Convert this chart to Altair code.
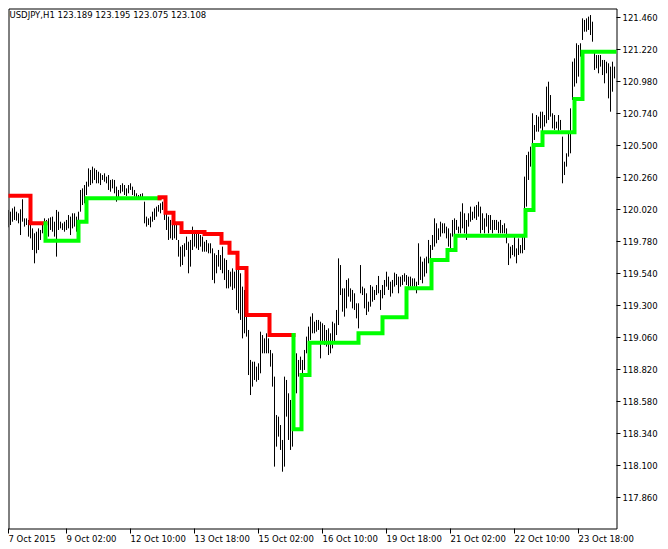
import altair as alt
import pandas as pd

# ---- price bars (H1), high / low ----
highs_a = [
    119.970, 119.995, 120.020, 120.007, 120.032, 120.045, 120.007, 119.995, 120.025, 120.100,
    119.957, 119.957, 119.945, 119.907, 119.882, 119.845, 119.857, 119.882, 119.870, 119.920,
    119.957, 119.945, 119.957, 119.965, 119.970, 119.932, 120.020, 120.007, 119.932, 119.920,
    119.932, 119.945, 119.982, 119.970, 119.995, 119.995, 119.970, 120.007, 120.170, 120.182,
    120.207, 120.232, 120.332, 120.320, 120.345, 120.332, 120.320, 120.307, 120.295, 120.282,
    120.295, 120.270, 120.282, 120.245, 120.250, 120.245, 120.195, 120.170, 120.207, 120.220,
    120.207, 120.182, 120.207, 120.220, 120.195, 120.170, 120.145, 120.132, 120.140, 120.145,
    120.082, 119.970, 119.957, 119.970, 120.007, 120.032, 120.045, 120.057, 120.070, 120.082,
    120.045, 119.995, 119.970, 119.945, 119.932, 119.920, 119.907, 119.795, 119.745, 119.757,
    119.770, 119.820, 119.782, 119.795, 119.895, 119.870, 119.845, 119.857, 119.832, 119.820,
    119.782, 119.795, 119.770, 119.770, 119.732, 119.695, 119.682, 119.720, 119.682, 119.745,
    119.657, 119.645, 119.570, 119.557, 119.582, 119.557, 119.595, 119.570, 119.545, 119.445,
    119.420, 119.245, 119.120, 118.895, 118.882, 118.882, 118.845, 118.870, 119.107, 119.082,
    119.057, 119.095, 119.057, 118.970, 118.945, 118.770, 118.482, 118.470, 118.407, 118.295,
    118.770, 118.745, 118.645, 118.595, 118.720, 118.770, 118.945, 118.895, 118.920, 118.895,
    118.970, 119.070, 119.145, 119.220, 119.245, 119.182, 119.195, 119.195,
]
lows_a = [
    119.845, 119.882, 119.890, 119.907, 119.932, 119.945, 119.940, 119.920, 119.832, 119.932,
    119.895, 119.907, 119.820, 119.807, 119.720, 119.620, 119.695, 119.720, 119.795, 119.845,
    119.795, 119.845, 119.820, 119.870, 119.857, 119.820, 119.670, 119.870, 119.882, 119.870,
    119.857, 119.870, 119.882, 119.832, 119.882, 119.895, 119.857, 119.907, 120.007, 120.057,
    120.070, 120.132, 120.195, 120.207, 120.220, 120.245, 120.220, 120.220, 120.207, 120.245,
    120.232, 120.220, 120.170, 120.157, 120.182, 120.145, 120.082, 120.095, 120.145, 120.157,
    120.132, 120.125, 120.145, 120.170, 120.132, 120.120, 120.095, 120.095, 120.095, 120.095,
    119.920, 119.895, 119.907, 119.890, 119.932, 119.945, 119.970, 120.007, 119.995, 120.020,
    119.945, 119.870, 119.795, 119.807, 119.795, 119.807, 119.795, 119.670, 119.595, 119.607,
    119.670, 119.720, 119.545, 119.595, 119.720, 119.745, 119.732, 119.720, 119.745, 119.707,
    119.707, 119.707, 119.695, 119.695, 119.495, 119.470, 119.545, 119.595, 119.570, 119.545,
    119.495, 119.432, 119.432, 119.445, 119.420, 119.432, 119.270, 119.245, 119.195, 119.057,
    119.095, 119.070, 118.782, 118.632, 118.695, 118.745, 118.732, 118.745, 118.795, 118.945,
    118.945, 118.945, 118.945, 118.845, 118.695, 118.095, 118.245, 118.320, 118.220, 118.057,
    118.095, 118.470, 118.295, 118.220, 118.245, 118.595, 118.645, 118.770, 118.820, 118.795,
    118.820, 118.945, 118.995, 119.045, 119.095, 119.095, 119.107, 119.120,
]
highs_b = [
    119.182, 119.170, 119.157, 119.120, 119.132, 119.095, 119.182, 119.170, 119.270, 119.657,
    119.607, 119.432, 119.432, 119.495, 119.507, 119.432, 119.420, 119.395, 119.320, 119.320,
    119.607, 119.445, 119.432, 119.395, 119.332, 119.457, 119.445, 119.420, 119.457, 119.525,
    119.420, 119.457, 119.495, 119.557, 119.520, 119.482, 119.495, 119.550, 119.540, 119.520,
    119.520, 119.532, 119.545, 119.532, 119.520, 119.520, 119.507, 119.507, 119.482, 119.770,
    119.670, 119.632, 119.657, 119.670, 119.795, 119.757, 119.832, 119.957, 119.920, 119.882,
    119.932, 119.920, 119.920, 119.895, 119.882, 119.845, 119.945, 119.957, 119.945, 119.895,
    120.007, 120.070, 119.995, 119.945, 119.995, 120.045, 120.007, 120.045, 120.057, 120.082,
    120.045, 119.995, 119.957, 119.995, 119.982, 119.982, 119.945, 119.945, 119.945, 119.932,
    119.945, 119.907, 119.920, 119.882, 119.770, 119.745, 119.757, 119.820, 119.732, 119.807,
    119.757, 119.820, 120.270, 120.432, 120.457, 120.495, 120.745, 120.657, 120.732, 120.720,
    120.757, 120.757, 120.732, 120.945, 120.982, 120.882, 120.745, 120.732, 120.682, 120.732,
    120.695, 120.570, 120.382, 120.445, 120.595, 120.782, 121.132, 121.157, 121.270, 121.257,
    121.270, 121.457, 121.445, 121.457, 121.470, 121.482, 121.432, 121.207, 121.182, 121.182,
    121.182, 121.145, 121.145, 121.132, 121.120, 121.095, 121.132, 121.095,
]
lows_b = [
    118.907, 119.020, 119.007, 118.995, 118.932, 118.945, 118.982, 119.020, 119.082, 119.157,
    119.382, 119.257, 119.220, 119.282, 119.370, 119.332, 119.282, 119.270, 119.207, 119.132,
    119.395, 119.382, 119.282, 119.232, 119.257, 119.295, 119.332, 119.345, 119.382, 119.395,
    119.270, 119.357, 119.382, 119.445, 119.420, 119.370, 119.395, 119.445, 119.457, 119.395,
    119.445, 119.457, 119.482, 119.457, 119.445, 119.445, 119.445, 119.445, 119.395, 119.457,
    119.495, 119.470, 119.520, 119.545, 119.620, 119.595, 119.720, 119.745, 119.770, 119.795,
    119.820, 119.845, 119.845, 119.807, 119.745, 119.720, 119.820, 119.832, 119.870, 119.845,
    119.845, 119.882, 119.845, 119.795, 119.895, 119.932, 119.945, 119.957, 119.945, 119.970,
    119.845, 119.870, 119.845, 119.895, 119.845, 119.870, 119.845, 119.870, 119.870, 119.845,
    119.845, 119.845, 119.845, 119.770, 119.607, 119.657, 119.682, 119.670, 119.620, 119.682,
    119.695, 119.695, 119.720, 120.045, 120.245, 120.345, 120.445, 120.545, 120.607, 120.607,
    120.632, 120.595, 120.645, 120.670, 120.695, 120.720, 120.632, 120.620, 120.632, 120.607,
    120.620, 120.220, 120.282, 120.345, 120.420, 120.445, 120.845, 120.945, 120.970, 121.020,
    121.170, 121.295, 121.357, 121.357, 121.370, 121.332, 121.282, 121.070, 121.082, 121.045,
    121.095, 121.032, 120.970, 121.045, 120.857, 120.757, 120.907, 121.007,
]

# ---- trend step line: segment start (bar), level, trend ----
seg_start = [-2, 13, 20.5, 37, 41, 77.5, 80.5, 84.5, 88.5, 100, 108.5, 112.5, 116.5,
             121, 132.5, 144.5, 148.5, 152.5, 177, 189, 201, 213.5, 221.5, 225.5,
             260.5, 264.5, 269, 285, 289]
seg_level = [120.127, 119.920, 119.790, 119.932, 120.107, 120.115, 120.000, 119.920,
             119.855, 119.840, 119.775, 119.700, 119.585, 119.232, 119.082, 118.375,
             118.782, 119.025, 119.095, 119.215, 119.433, 119.645, 119.720, 119.827,
             120.020, 120.507, 120.603, 120.852, 121.207]
seg_trend = ["down", "down", "up", "up", "up", "down", "down", "down", "down", "down",
             "down", "down", "down", "down", "down", "up", "up", "up", "up", "up", "up",
             "up", "up", "up", "up", "up", "up", "up", "up"]
line_end = 306

tick_bars = [2, 31, 63, 95, 127, 159, 191, 223, 255, 287]
tick_labels = ["7 Oct 2015", "9 Oct 02:00", "12 Oct 10:00", "13 Oct 18:00", "15 Oct 02:00",
               "16 Oct 10:00", "19 Oct 18:00", "21 Oct 02:00", "22 Oct 10:00", "23 Oct 18:00"]
price_ticks = [121.46, 121.22, 120.98, 120.74, 120.50, 120.26, 120.02, 119.78, 119.54,
               119.30, 119.06, 118.82, 118.58, 118.34, 118.10, 117.86]
header = "USDJPY,H1  123.189 123.195 123.075 123.108"

# ---- tables ----
highs = highs_a + highs_b
lows = lows_a + lows_b
bars = pd.DataFrame({"bar": list(range(len(highs))), "high": highs, "low": lows})

rows = []
ends = seg_start[1:] + [line_end]
run, k = 0, 0
prev_trend, prev_level = None, None
for s, e, lv, tr in zip(seg_start, ends, seg_level, seg_trend):
    if tr != prev_trend and prev_trend is not None:
        run += 1
        rows.append({"bar": s, "high": prev_level, "trend": tr, "run": run, "ord": k}); k += 1
    rows.append({"bar": s, "high": lv, "trend": tr, "run": run, "ord": k}); k += 1
    rows.append({"bar": e, "high": lv, "trend": tr, "run": run, "ord": k}); k += 1
    prev_trend, prev_level = tr, lv
line_df = pd.DataFrame(rows)

label_expr = " : ".join(f"datum.value == {b} ? '{l}'" for b, l in zip(tick_bars, tick_labels)) + " : ''"

xscale = alt.Scale(domain=[2, 306], nice=False, zero=False)
yscale = alt.Scale(domain=[117.631, 121.531], nice=False, zero=False)

x_axis = alt.Axis(values=tick_bars, labelExpr=label_expr, orient="bottom", domain=False,
                  grid=False, ticks=True, tickSize=5, labelAlign="left", labelBaseline="top",
                  labelPadding=1, labelOverlap=False, labelFlush=False, title=None, translate=0)
y_axis = alt.Axis(values=price_ticks, format=".3f", orient="right", domain=False, grid=False,
                  ticks=True, tickSize=4, labelAlign="left", labelBaseline="middle",
                  labelPadding=2, labelOverlap=False, labelFlush=False, title=None, translate=0)

bar_layer = alt.Chart(bars).mark_rule(color="black", strokeWidth=1, clip=True).encode(
    x=alt.X("bar:Q", scale=xscale, axis=x_axis),
    y=alt.Y("high:Q", scale=yscale, axis=y_axis),
    y2="low:Q",
)

line_layer = alt.Chart(line_df).mark_line(strokeWidth=4, clip=True, strokeCap="square",
                                          strokeJoin="miter").encode(
    x=alt.X("bar:Q", scale=xscale, axis=x_axis),
    y=alt.Y("high:Q", scale=yscale, axis=y_axis),
    color=alt.Color("trend:N", scale=alt.Scale(domain=["down", "up"],
                                               range=["#ff0000", "#00ff00"]), legend=None),
    detail="run:N",
    order="ord:Q",
)

text_layer = alt.Chart(pd.DataFrame({"t": [header]})).mark_text(
    align="left", baseline="top", font="DejaVu Sans", fontSize=8.5, color="black"
).encode(x=alt.value(1), y=alt.value(2), text="t:N")

chart = alt.layer(bar_layer, line_layer, text_layer).properties(
    width=608, height=520,
    padding={"left": 0.5, "top": 0.5, "right": 43, "bottom": 20.5},
    autosize=alt.AutoSizeParams(type="none"),
    background="white",
).configure_view(stroke="black", strokeWidth=1, fill="white").configure_axis(
    labelFont="DejaVu Sans", labelFontSize=8.5, labelColor="black", tickColor="black",
    tickWidth=1,
)

chart.save("out.html", embed_options={"renderer": "svg", "actions": False})
